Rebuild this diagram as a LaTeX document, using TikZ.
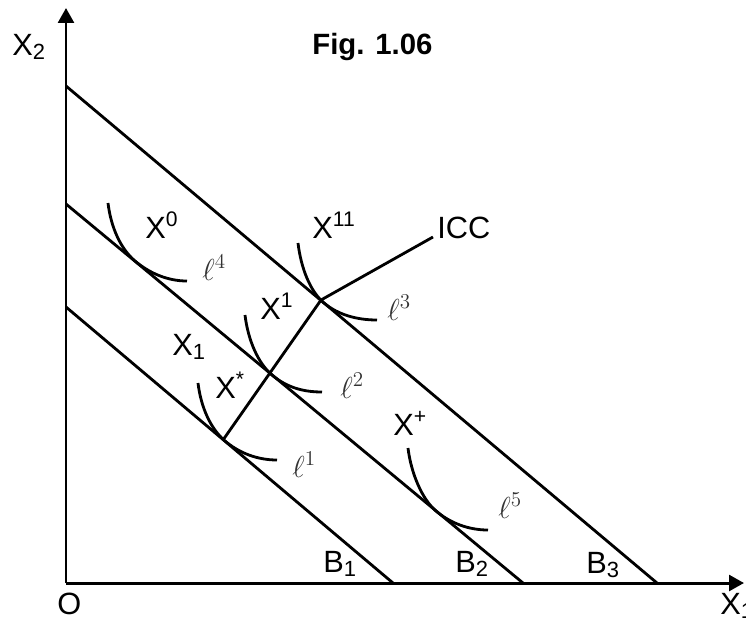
\documentclass[tikz,border=0pt]{standalone}
\usepackage{fontspec}
\setmainfont{Liberation Sans}
\usetikzlibrary{arrows.meta}
\newcommand{\mysup}[1]{\raisebox{0.36em}{\fontsize{12}{12}\selectfont #1}}
\newcommand{\mysub}[1]{\raisebox{-0.16em}{\fontsize{12.5}{12}\selectfont #1}}
\tikzset{
  axis/.style={line width=1.7pt,-{Triangle[length=8.5pt,width=9pt]}},
  bline/.style={line width=1.6pt},
  icurve/.style={line width=1.6pt},
  lab/.style={anchor=base west,inner sep=0pt,font=\fontsize{17.5}{20}\selectfont},
  ell/.style={anchor=base west,inner sep=0pt,font=\fontsize{17.28}{20}\selectfont,text=black!80},
}
\begin{document}
\begin{tikzpicture}[x=0.02cm,y=-0.02cm]
\useasboundingbox (0,0) rectangle (746,619);
% axes
\coordinate (O) at (66,583);
\coordinate (ytop) at (66,8);
\coordinate (xend) at (744,583);
\draw[axis] (O) -- (ytop);
\draw[axis] (O) -- (xend);
% budget lines
\coordinate (b3a) at (66,86);  \coordinate (b3b) at (657,583);
\coordinate (b2a) at (66,204); \coordinate (b2b) at (523,583);
\coordinate (b1a) at (66,307); \coordinate (b1b) at (393,583);
\draw[bline] (b3a) -- (b3b);
\draw[bline] (b2a) -- (b2b);
\draw[bline] (b1a) -- (b1b);
% ICC
\coordinate (p1) at (223,440);
\coordinate (p3) at (321,300);
\coordinate (iccend) at (433,237);
\draw[bline] (p1) -- (p3) -- (iccend);
% indifference curves
\coordinate (s1) at (198,383); \coordinate (t1) at (225,441); \coordinate (e1) at (277,460);
\draw[icurve] (s1) .. controls (201,408) and (211,429.2) .. (t1) .. controls (239,452.8) and (257,460) .. (e1);
\coordinate (s2) at (245,315); \coordinate (t2) at (272,375); \coordinate (e2) at (322,392);
\draw[icurve] (s2) .. controls (248,340) and (258,363.2) .. (t2) .. controls (286,386.8) and (302,392) .. (e2);
\coordinate (s3) at (298,243); \coordinate (t3) at (324,303); \coordinate (e3) at (377,320);
\draw[icurve] (s3) .. controls (301,268) and (310,291.2) .. (t3) .. controls (338,314.8) and (357,320) .. (e3);
\coordinate (s4) at (108,203); \coordinate (t4) at (135,261); \coordinate (e4) at (187,281);
\draw[icurve] (s4) .. controls (111,228) and (121,249.2) .. (t4) .. controls (149,272.8) and (167,281) .. (e4);
\coordinate (s5) at (408,448); \coordinate (t5) at (436,511); \coordinate (e5) at (488,530);
\draw[icurve] (s5) .. controls (411,473) and (422,499.2) .. (t5) .. controls (450,522.8) and (468,530) .. (e5);
% labels
\node[lab] (lx2) at (12,55) {X\mysub{2}};
\node[lab,font=\fontsize{16.7}{20}\selectfont\bfseries] (fig) at (312,54) {Fig. 1.06};
\node[lab] (lx0) at (145,238) {X\mysup{0}};
\node[lab] (lx11) at (312,238) {X\mysup{11}};
\node[lab] (licc) at (437,238) {ICC};
\node[lab] (lxa) at (260,319) {X\mysup{1}};
\node[lab] (lxb) at (172,355) {X\mysub{1}};
\node[lab] (lxs) at (215,398) {X\mysup{*}};
\node[lab] (lxp) at (393,435) {X\mysup{+}};
\node[lab] (lb1) at (323,572) {B\mysub{1}};
\node[lab] (lb2) at (455,572) {B\mysub{2}};
\node[lab] (lb3) at (586,573) {B\mysub{3}};
\node[lab] (lo) at (57,614) {O};
\node[lab] (lx1) at (720,614) {X\mysub{1}};
\node[ell] (l4) at (202,280) {$\ell^{4}$};
\node[ell] (l1) at (292,477) {$\ell^{1}$};
\node[ell] (l2) at (340,398) {$\ell^{2}$};
\node[ell] (l3) at (387,320) {$\ell^{3}$};
\node[ell] (l5) at (498,518) {$\ell^{5}$};
\end{tikzpicture}
\end{document}
